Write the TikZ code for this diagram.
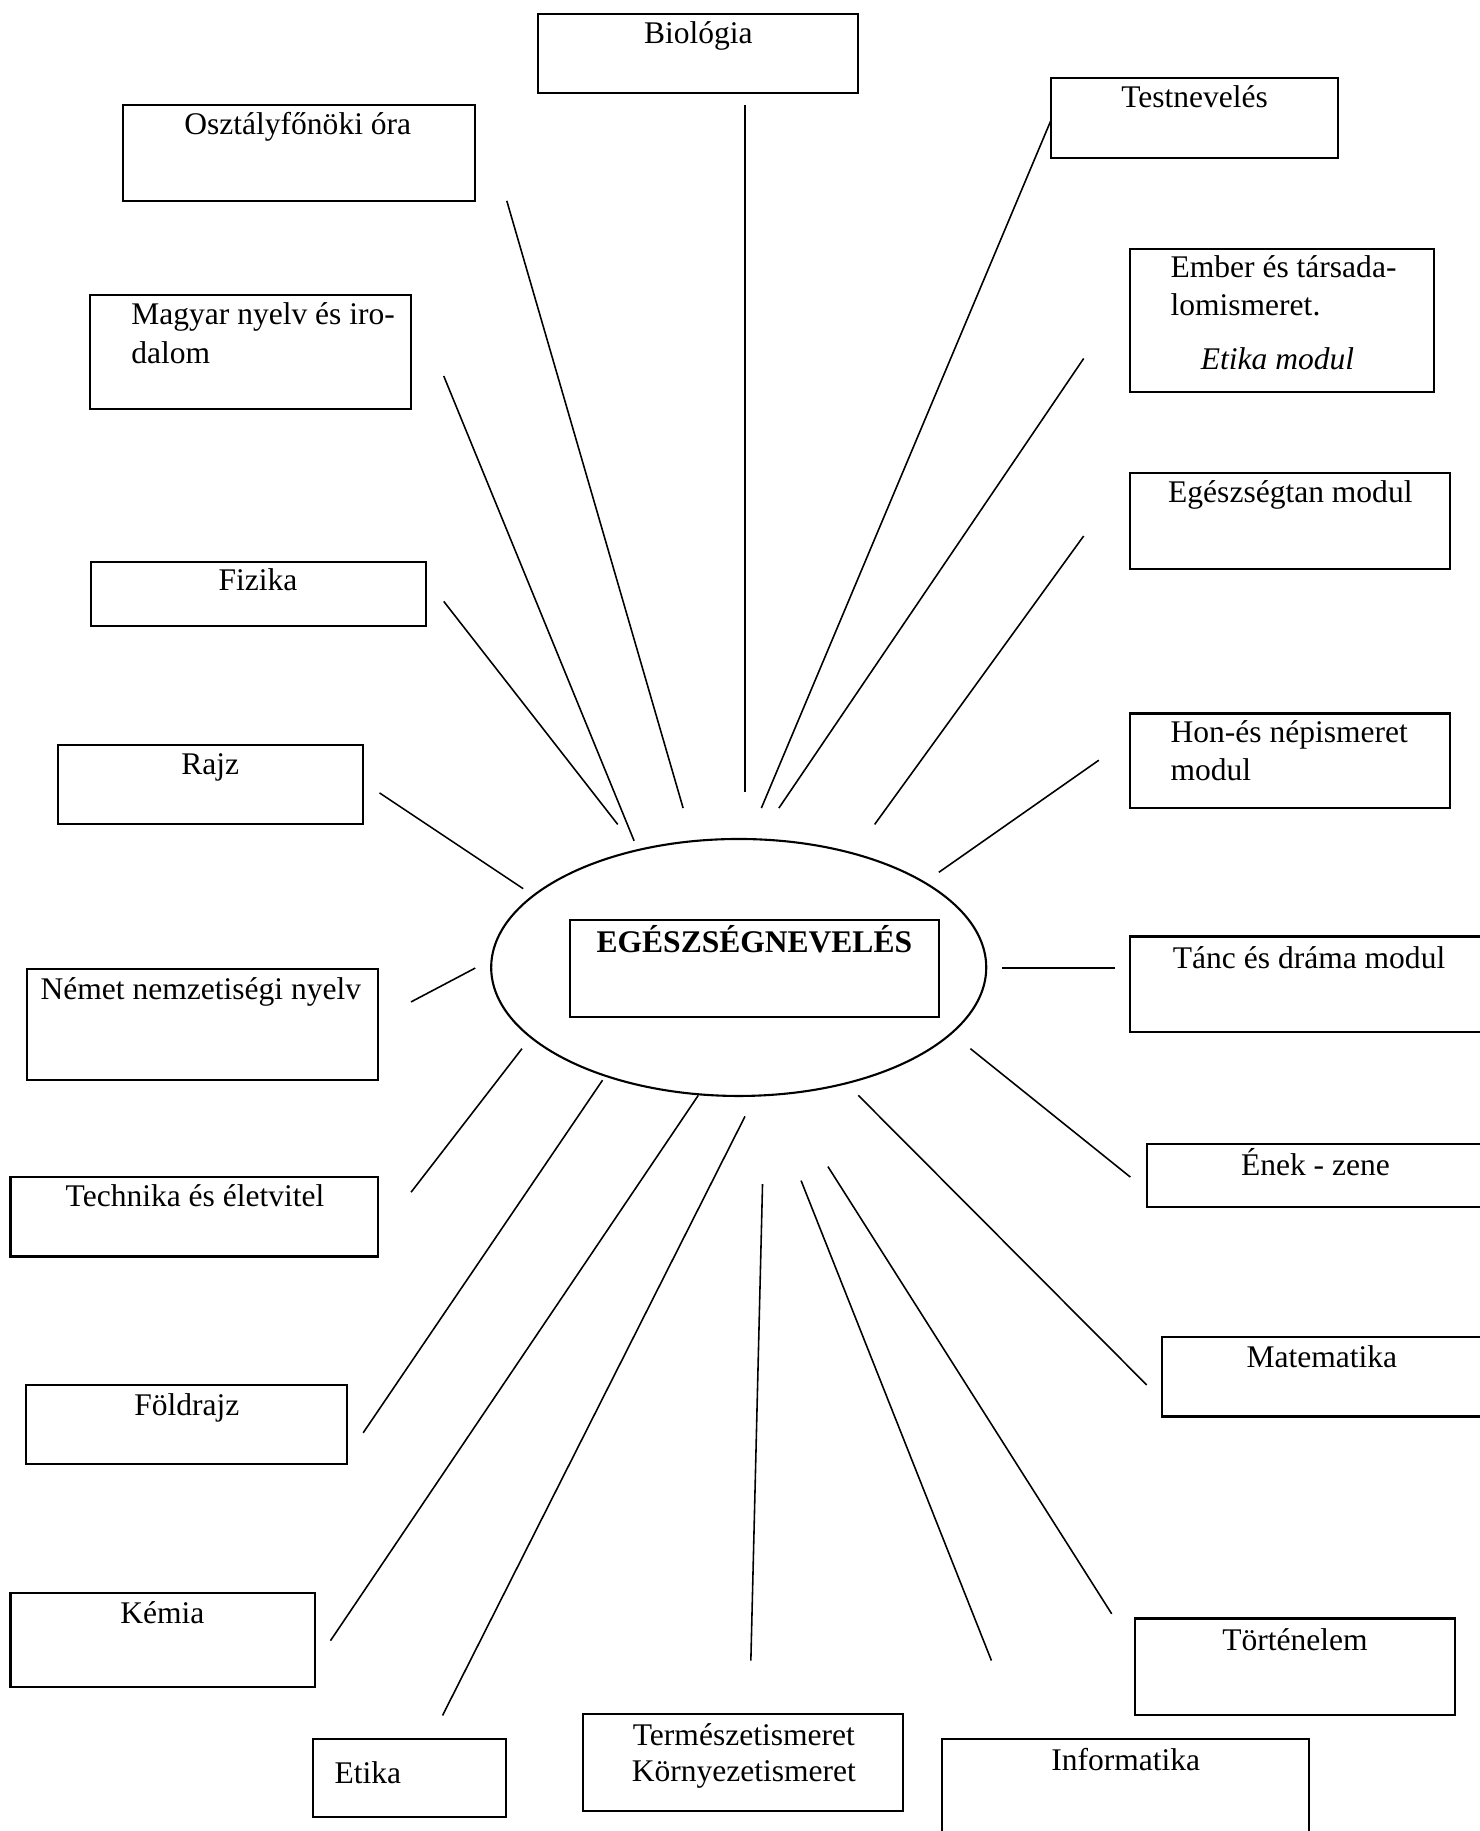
\documentclass[tikz,border=0pt]{standalone}
\usepackage{fontspec}
\setmainfont{Liberation Serif}
\usetikzlibrary{shapes.geometric}

\tikzset{
  subj/.style={draw, line width=0.8pt},
  txt/.style={inner sep=0pt, font=\fontsize{12}{14.5}\selectfont},
  spoke/.style={line width=0.6pt},
}

\begin{document}
\begin{tikzpicture}[x=0.4444pt, y=-0.4444pt]
    \useasboundingbox (0,0) rectangle (1267,1568);

    % centre
    \node[ellipse, draw, line width=0.8pt, minimum width=188.4pt, minimum height=97.8pt, inner sep=0pt] (centre) at (632.6,828.5) {};
    \draw[subj] (488,788) rectangle (804,871);
    \node[txt, anchor=base, font=\fontsize{12}{14.5}\selectfont\bfseries] (title) at (646,816) {EGÉSZSÉGNEVELÉS};

    % subject boxes, upper half
    \draw[subj] (461,12) rectangle (735,80);
    \node[txt, anchor=base] (bio) at (598,37) {Biológia};
    \draw[subj] (105,90) rectangle (407,172);
    \node[txt, anchor=base] (osz) at (255,115) {Osztályfőnöki óra};
    \draw[subj] (900,67) rectangle (1146,135);
    \node[txt, anchor=base] (test) at (1023,92) {Testnevelés};
    \draw[subj] (77,253) rectangle (352,350);
    \node[txt, anchor=base west] (magyar1) at (112,278) {Magyar nyelv és iro-};
    \node[txt, anchor=base west] (magyar2) at (112,311) {dalom};
    \draw[subj] (968,213) rectangle (1228,336);
    \node[txt, anchor=base west] (ember1) at (1002,238) {Ember és társada-};
    \node[txt, anchor=base west] (ember2) at (1002,270.5) {lomismeret.};
    \node[txt, anchor=base, font=\fontsize{12}{14.5}\selectfont\itshape] (ember3) at (1094,316) {Etika modul};
    \draw[subj] (968,405) rectangle (1242,487);
    \node[txt, anchor=base] (egesz) at (1105,430) {Egészségtan modul};
    \draw[subj] (78,481) rectangle (365,536);
    \node[txt, anchor=base] (fiz) at (221,506) {Fizika};
    \draw[subj] (968,611) rectangle (1242,692);
    \node[txt, anchor=base west] (hon1) at (1002,636) {Hon-és népismeret};
    \node[txt, anchor=base west] (hon2) at (1002,668) {modul};
    \draw[subj] (50,638) rectangle (311,706);
    \node[txt, anchor=base] (rajz) at (180,663) {Rajz};

    % subject boxes, lower half
    \draw[subj] (23,830) rectangle (324,925);
    \node[txt, anchor=base] (nemet) at (172,856) {Német nemzetiségi nyelv};
    \draw[subj] (1267,802) -- (968,802) -- (968,884) -- (1267,884);
    \node[txt, anchor=base west] (tanc) at (1004,829) {Tánc és dráma modul};
    \draw[subj] (1267,980) -- (982,980) -- (982,1034) -- (1267,1034);
    \node[txt, anchor=base] (enek) at (1126.5,1007) {Ének - zene};
    \draw[subj] (9,1008) rectangle (324,1076);
    \node[txt, anchor=base] (tech) at (167,1033) {Technika és életvitel};
    \draw[subj] (1267,1145) -- (995,1145) -- (995,1213) -- (1267,1213);
    \node[txt, anchor=base] (matek) at (1132,1171) {Matematika};
    \draw[subj] (22,1186) rectangle (297,1254);
    \node[txt, anchor=base] (fold) at (160,1212) {Földrajz};
    \draw[subj] (9,1364) rectangle (270,1445);
    \node[txt, anchor=base] (kemia) at (139,1390) {Kémia};
    \draw[subj] (972,1386) rectangle (1246,1469);
    \node[txt, anchor=base] (tort) at (1109,1413) {Történelem};
    \draw[subj] (268,1489) rectangle (433,1556);
    \node[txt, anchor=base west] (etika) at (286,1527) {Etika};
    \draw[subj] (499,1468) rectangle (773,1551);
    \node[txt, anchor=base] (term1) at (637,1495) {Természetismeret};
    \node[txt, anchor=base] (term2) at (637,1526) {Környezetismeret};
    \draw[subj] (807,1568) -- (807,1489) -- (1121,1489) -- (1121,1568);
    \node[txt, anchor=base] (info) at (964,1516) {Informatika};

    % spokes: box end / centre end
    \foreach \n/\xa/\ya/\xb/\yb in {bio/638/90/638/678, osz/434/172/585/692,
        test/900/103/652/692, magyar/380/322/543/720, ember/928/307/667/692,
        egesz/928/459/749/706, fiz/380/515/529/706, hon/941/651/804/747,
        rajz/325/679/448/761, tanc/955/829/858/829, nemet/352/858/407/829,
        tech/352/1021/447/898, enek/968/1008/831/898, fold/311/1227/516/925,
        matek/982/1186/735/938, kemia/283/1405/598/938, tort/952/1382/709/999,
        etika/379/1469/638/956, term/643/1422/653/1014, info/849/1422/686/1011} {
        \coordinate (\n-box) at (\xa,\ya);
        \coordinate (\n-mid) at (\xb,\yb);
        \draw[spoke] (\n-box) -- (\n-mid);
    }

\end{tikzpicture}
\end{document}
